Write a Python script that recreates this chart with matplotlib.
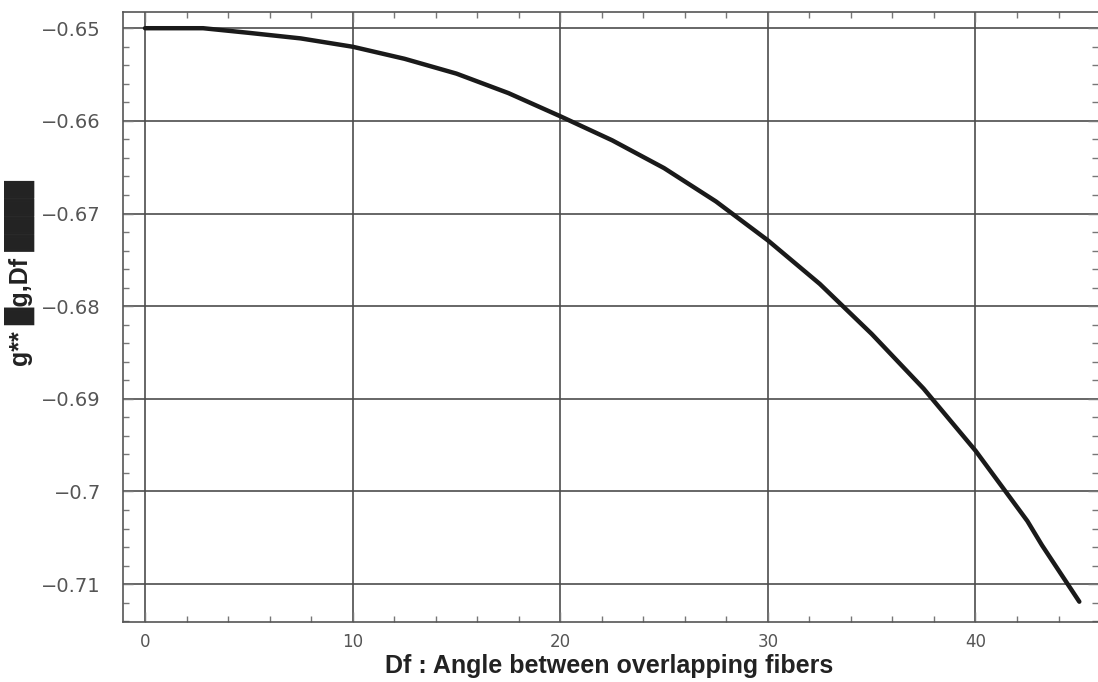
import matplotlib
matplotlib.use("Agg")
import matplotlib.pyplot as plt
from matplotlib.ticker import MultipleLocator

# angle between overlapping fibers (deg) and g** value
angle = [0, 2.8, 5, 7.5, 10, 12.5, 15, 17.5, 20, 22.5, 25, 27.5, 30,
         32.5, 35, 37.5, 40, 42.5, 43.2, 45]
g_val = [-0.6500, -0.6500, -0.6505, -0.6511, -0.6520, -0.6533, -0.6549,
         -0.6570, -0.6595, -0.6621, -0.6651, -0.6687, -0.6729, -0.6776,
         -0.6830, -0.6889, -0.6956, -0.7032, -0.7058, -0.7119]

x_ticks = [0, 10, 20, 30, 40]
y_ticks = [-0.65, -0.66, -0.67, -0.68, -0.69, -0.70, -0.71]
y_tick_labels = ["\u22120.65", "\u22120.66", "\u22120.67", "\u22120.68",
                 "\u22120.69", "\u22120.7", "\u22120.71"]

fig = plt.figure(figsize=(10.98, 6.82), dpi=100)
ax = fig.add_axes([0.112, 0.088, 0.888, 0.894])

ax.plot(angle, g_val, color="#1a1a1a", linewidth=3.2, solid_capstyle="round", zorder=3)

ax.set_xlim(-1.06, 45.9)
ax.set_ylim(-0.71409, -0.64828)

ax.set_xticks(x_ticks)
ax.set_yticks(y_ticks)
ax.set_yticklabels(y_tick_labels)
ax.xaxis.set_minor_locator(MultipleLocator(2))
ax.yaxis.set_minor_locator(MultipleLocator(0.002))

ax.grid(True, which="major", color="#4d4d4d", linewidth=1.2)
ax.set_axisbelow(True)

for side in ["left", "bottom", "top"]:
    ax.spines[side].set_color("#555555")
    ax.spines[side].set_linewidth(1.2)
ax.spines["right"].set_visible(False)

ax.tick_params(which="both", direction="in", top=True, right=True,
               color="#777777", labelcolor="#555555")
ax.tick_params(which="major", length=7, width=1)
ax.tick_params(which="minor", length=4, width=1)
ax.tick_params(axis="y", labelsize=14, pad=16)
ax.tick_params(axis="x", labelsize=12, pad=8)

fig.text(0.555, 0.024, "Df : Angle between overlapping fibers",
         family=["Liberation Sans Narrow", "Liberation Sans", "DejaVu Sans"],
         fontweight="bold", fontsize=18, color="#222222", ha="center", va="center")

fig.text(0.018, 0.60, "g** \u2588g,Df \u2588\u2588\u2588\u2588",
         family=["Liberation Sans", "DejaVu Sans"], fontweight="bold",
         fontsize=18, color="#222222", rotation=90, ha="center", va="center")

fig.savefig("out.png", dpi=100)
